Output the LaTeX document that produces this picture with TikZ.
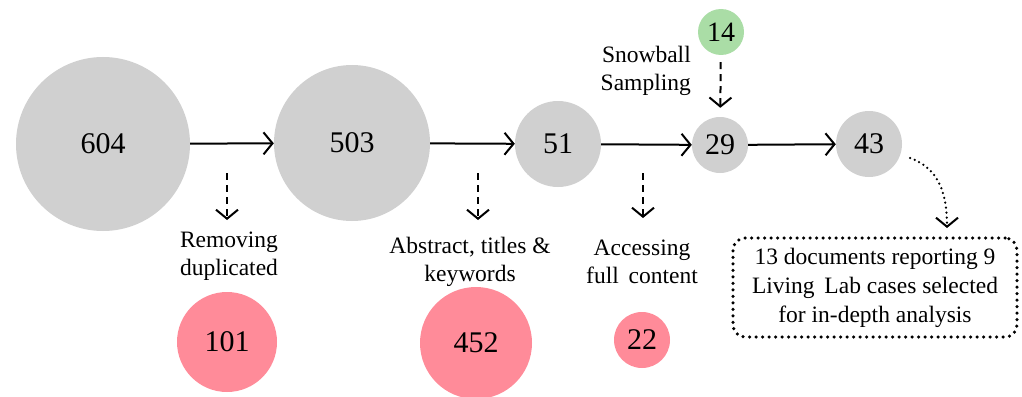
\documentclass[tikz,border=0pt]{standalone}
\usepackage{fontspec}
\setmainfont{Liberation Serif}
\usetikzlibrary{arrows.meta,calc}
\definecolor{greyc}{RGB}{208,208,208}
\definecolor{pinkc}{RGB}{255,139,153}
\definecolor{greenc}{RGB}{170,221,166}
\begin{document}
\begin{tikzpicture}[x=1pt,y=-1pt,
  bub/.style={circle,inner sep=0pt,font=\fontsize{30}{31}\selectfont},
  greyb/.style={bub,fill=greyc},
  pinkb/.style={bub,fill=pinkc},
  greenb/.style={bub,fill=greenc,font=\fontsize{28}{29}\selectfont},
  lab/.style={align=center,font=\fontsize{23.5}{28}\selectfont,inner sep=0pt},
  barb/.tip={Straight Barb[length=9pt,width=22pt,line width=2pt]},
  flow/.style={-barb,line width=2pt},
  side/.style={flow,dash pattern=on 7pt off 5pt},
  dotbox/.style={draw,rounded corners=12pt,line width=3.5pt,line cap=round,
    dash pattern=on 0pt off 6.5pt,align=center,inner sep=0pt,
    minimum width=284pt,minimum height=99pt,font=\fontsize{23.5}{29}\selectfont},
  dotarrow/.style={-barb,line width=2.5pt,line cap=round,dash pattern=on 0pt off 5pt}
]
\useasboundingbox (0,0) rectangle (1022,396);
% main chain
\node[greyb,minimum size=174pt] (n604) at (103,144) {604};
\node[greyb,minimum size=156pt] (n503) at (352,143) {503};
\node[greyb,minimum size=86pt] (n51) at (558,144) {51};
\node[greyb,minimum size=56pt] (n29) at (720,145) {29};
\node[greyb,minimum size=66pt] (n43) at (869,144) {43};
\node[greenb,minimum size=46pt] (n14) at (721,32) {14};
% excluded
\node[pinkb,minimum size=100pt] (n101) at (227,342) {101};
\node[pinkb,minimum size=112pt] (n452) at (476,343) {452};
\node[pinkb,minimum size=56pt] (n22) at (642,340) {22};
% labels
\node[lab] (l1) at (229,256) {Removing\\duplicated};
\node[lab] (l2) at (470,262) {Abstract, titles \&\\keywords};
\node[lab] (l3) at (642,262) {Accessing\\full\, content};
\node[lab,anchor=east,align=right] (l4) at (691,71) {Snowball\\Sampling};
\node[dotbox] (box) at (875,287.5) {13 documents reporting 9\\Living\, Lab cases selected\\for in-depth analysis};
% main arrows
\draw[flow] (n604) -- (n503);
\draw[flow] (n503) -- (n51);
\draw[flow] (n51) -- (n29);
\draw[flow] (n29) -- (n43);
% side arrows
\coordinate (d1a) at (227,173); \coordinate (d1b) at (227,220);
\coordinate (d2a) at (478,173); \coordinate (d2b) at (478,220);
\coordinate (d3a) at (643,173); \coordinate (d3b) at (643,218);
\draw[side] (d1a) -- (d1b);
\draw[side] (d2a) -- (d2b);
\draw[side] (d3a) -- (d3b);
\draw[side,shorten <=7pt,shorten >=9pt] (n14) -- (n29);
% dotted curve
\coordinate (c1) at (910,158);
\coordinate (c2) at (947,228);
\draw[dotarrow] (c1) .. controls (938,168) and (947,192) .. (c2);
\end{tikzpicture}
\end{document}
